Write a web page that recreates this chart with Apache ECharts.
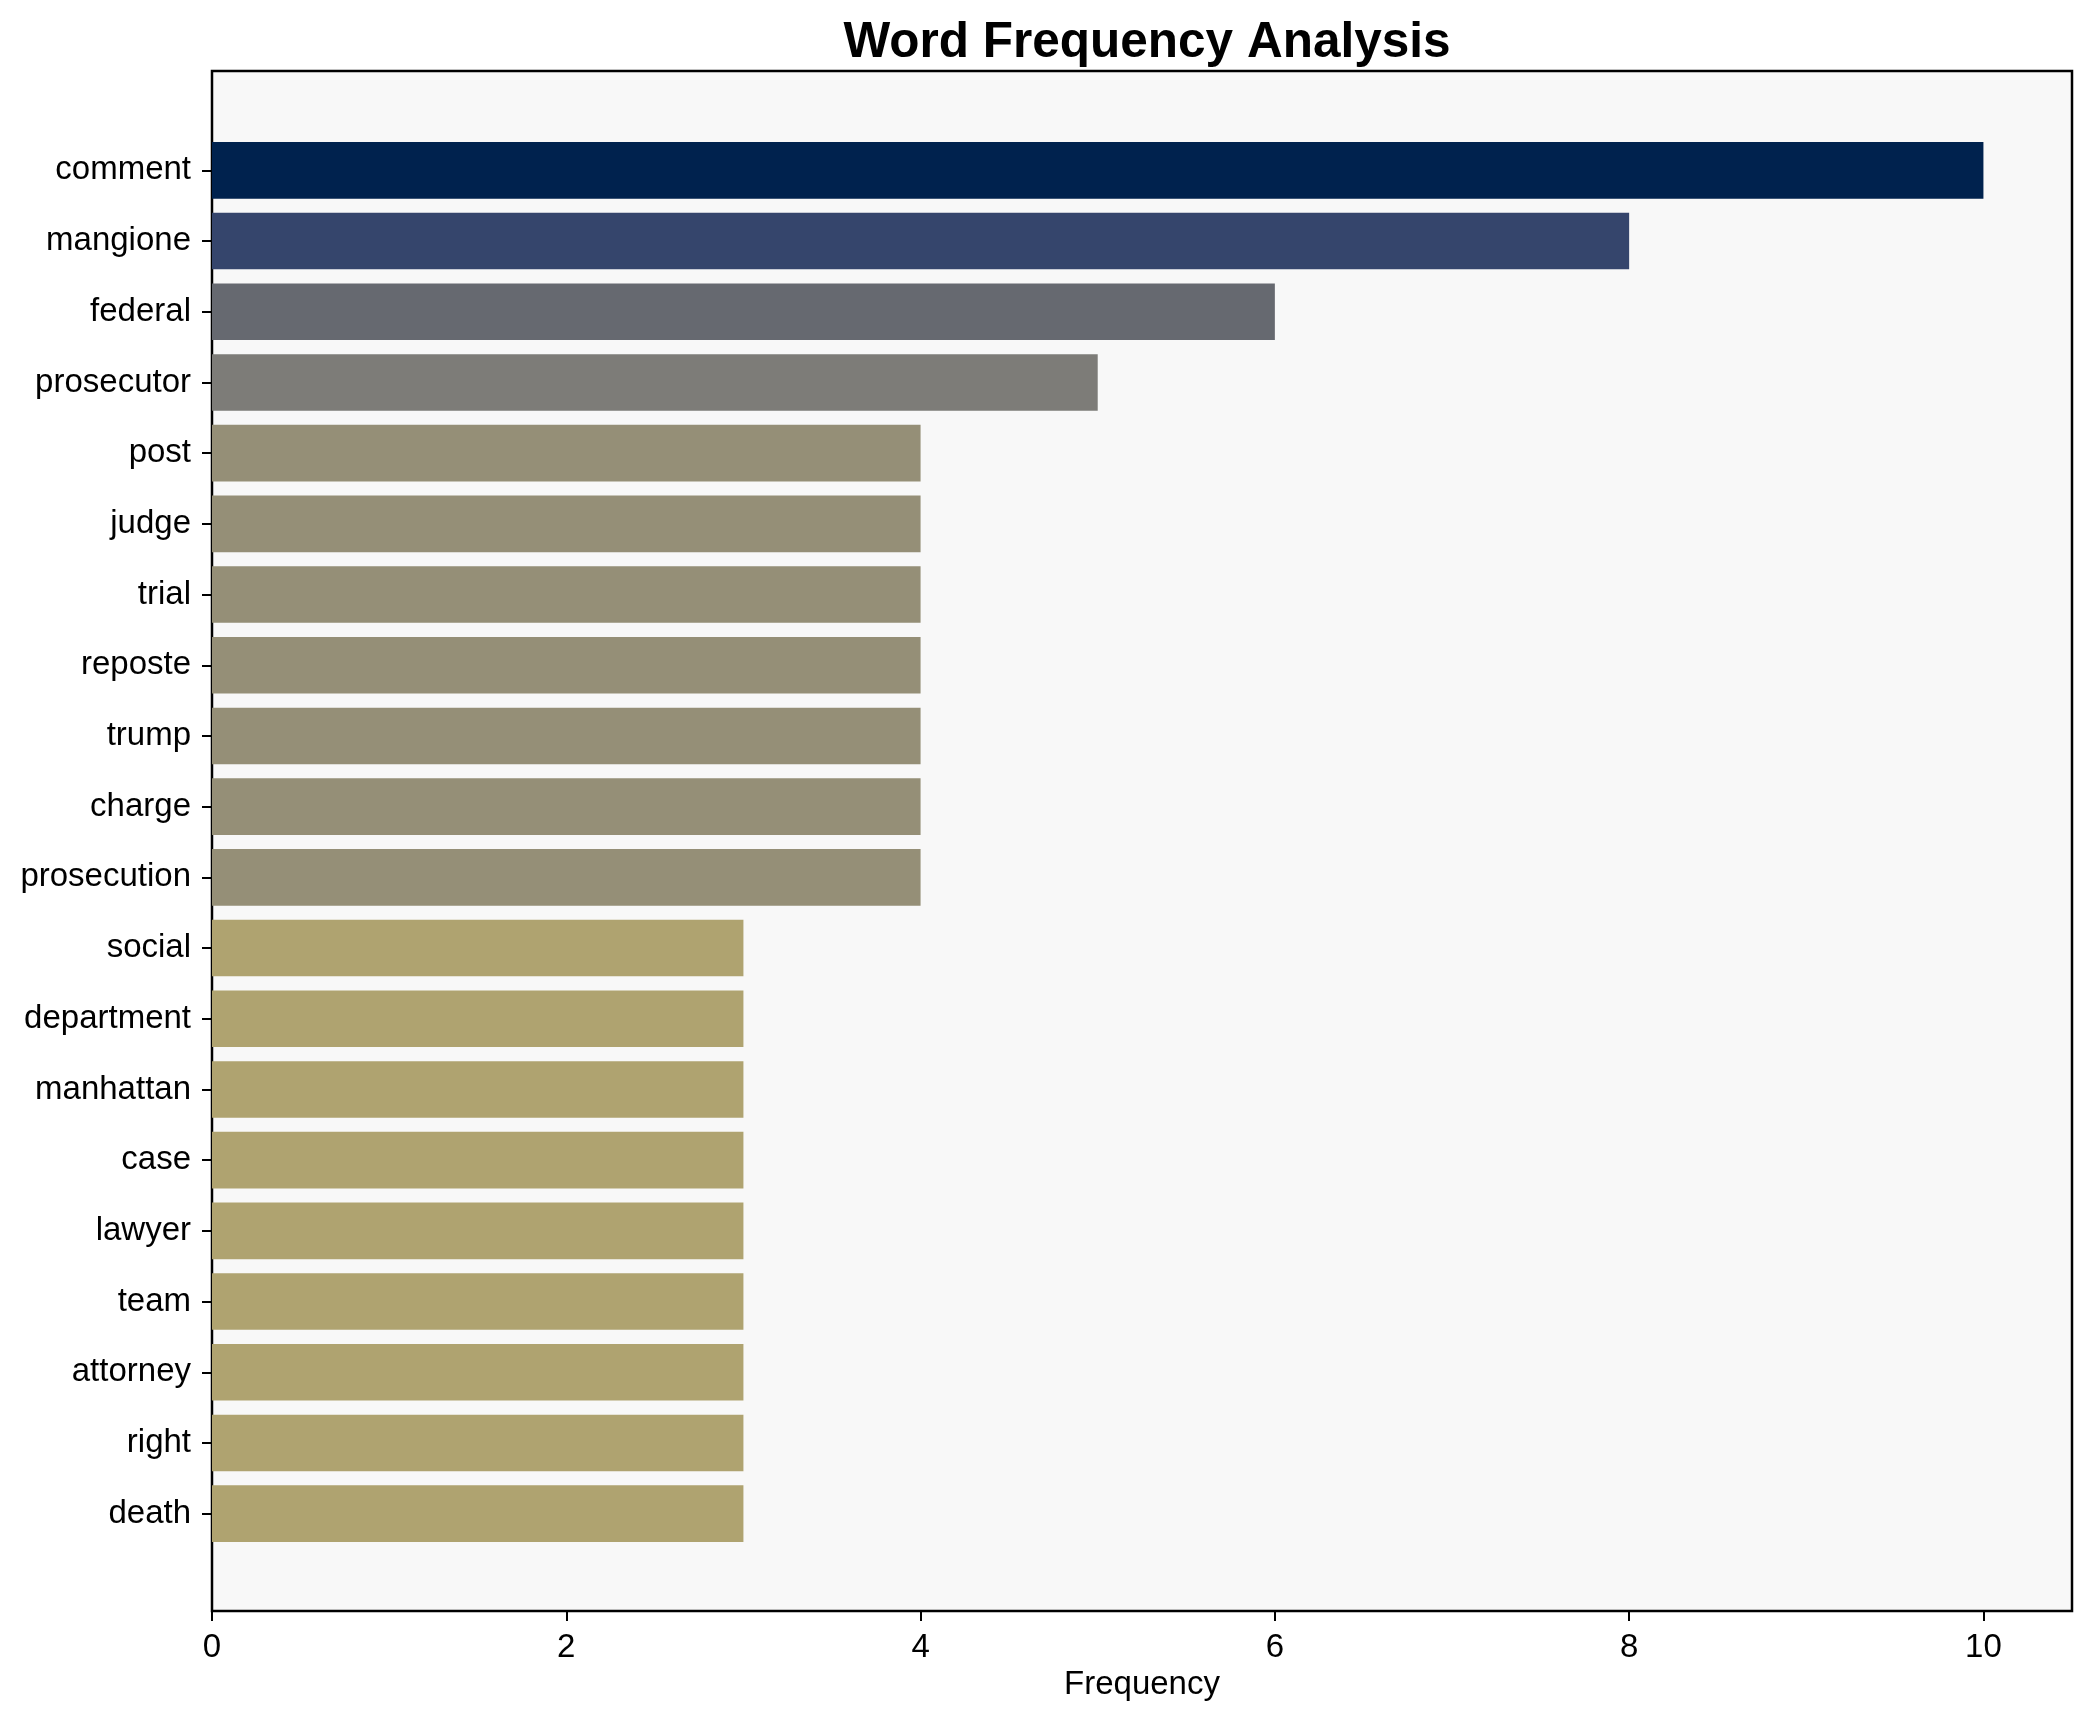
<!DOCTYPE html>
<html>
<head>
<meta charset="utf-8">
<script src="https://cdn.jsdelivr.net/npm/echarts@6/dist/echarts.min.js"></script>
<style>
html,body{margin:0;padding:0;background:#fff;}
#chart{width:2091px;height:1722px;}
</style>
</head>
<body>
<div id="chart"></div>
<script>
const categories = ["comment","mangione","federal","prosecutor","post","judge","trial","reposte","trump","charge","prosecution","social","department","manhattan","case","lawyer","team","attorney","right","death"];
const frequencies = [10,8,6,5,4,4,4,4,4,4,4,3,3,3,3,3,3,3,3,3];
const xTicks = [0,2,4,6,8,10];
const colorByValue = {10:"#00224e",8:"#35456c",6:"#666970",5:"#7d7c78",4:"#958f77",3:"#afa370"};

const FONT = "'Liberation Sans', Arial, Helvetica, sans-serif";
const chart = echarts.init(document.getElementById('chart'), null, {renderer:'canvas'});
chart.setOption({
  backgroundColor:'#ffffff',
  animation:false,
  title:{
    text:'Word Frequency Analysis',
    left:1142, top:13, textAlign:'center',
    textStyle:{fontFamily:FONT,fontWeight:'bold',fontSize:49.5,color:'#000'}
  },
  grid:[
    {left:212,right:19,top:71,bottom:111,show:true,backgroundColor:'#f8f8f8',borderColor:'#000',borderWidth:2.5,containLabel:false},
    {left:212,right:19,top:135,bottom:173,show:false,containLabel:false}
  ],
  xAxis:[
    {gridIndex:0,type:'value',min:0,max:10.5,
     name:'Frequency',nameLocation:'middle',nameGap:56,
     nameTextStyle:{fontFamily:FONT,fontSize:33,color:'#000'},
     axisLine:{show:false},
     axisTick:{show:true,length:10,lineStyle:{color:'#000',width:2},customValues:xTicks},
     axisLabel:{show:true,margin:20,fontFamily:FONT,fontSize:33,color:'#000',customValues:xTicks},
     splitLine:{show:false}},
    {gridIndex:1,type:'value',min:0,max:10.5,show:false,splitLine:{show:false}}
  ],
  yAxis:[
    {gridIndex:0,type:'value',show:false,splitLine:{show:false}},
    {gridIndex:1,type:'category',data:categories,inverse:true,
     axisLine:{show:false},
     axisTick:{show:true,length:10,alignWithLabel:true,lineStyle:{color:'#000',width:2}},
     axisLabel:{margin:21,fontFamily:FONT,fontSize:33,color:'#000',lineHeight:33,padding:[6,0,0,0]},
     splitLine:{show:false}}
  ],
  series:[{
    type:'bar',xAxisIndex:1,yAxisIndex:1,
    data:frequencies.map(v=>({value:v,itemStyle:{color:colorByValue[v]}})),
    barWidth:'80%'
  }]
});
</script>
</body>
</html>
